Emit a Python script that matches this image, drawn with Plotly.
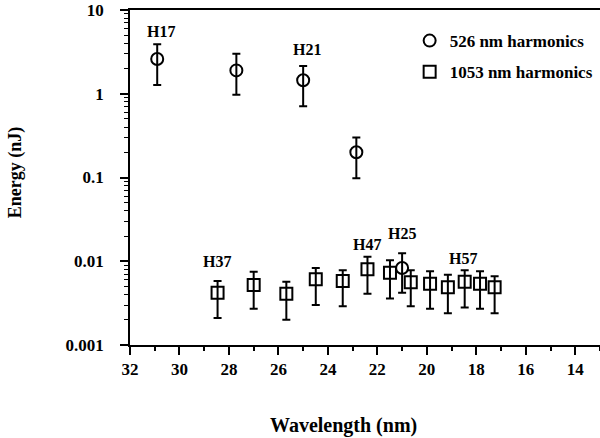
import numpy as np
import plotly.graph_objects as go

# 526 nm harmonics (H17..H25)
wl_526 = [30.9, 27.7, 25.0, 22.85, 21.0]
e_526 = [2.6, 1.9, 1.45, 0.20, 0.0083]
e_526_hi = [3.9, 3.0, 2.15, 0.30, 0.0125]
e_526_lo = [1.27, 0.97, 0.71, 0.098, 0.0042]

# 1053 nm harmonics (H37..H61)
wl_1053 = [28.46, 27.0, 25.68, 24.49, 23.4, 22.4, 21.49, 20.65, 19.87, 19.15, 18.47, 17.85, 17.26]
e_1053 = [0.0042, 0.0052, 0.0041, 0.0061, 0.0058, 0.0080, 0.0073, 0.0056, 0.0054, 0.0049, 0.0057, 0.0054, 0.0049]
e_1053_hi = [0.0058, 0.0075, 0.0057, 0.0083, 0.0078, 0.0113, 0.0103, 0.0078, 0.0076, 0.0069, 0.0078, 0.0076, 0.0066]
e_1053_lo = [0.0021, 0.0027, 0.0020, 0.0030, 0.0029, 0.0041, 0.0036, 0.0029, 0.0027, 0.0024, 0.0028, 0.0027, 0.0024]

# harmonic labels
lab_text = ["H17", "H21", "H37", "H47", "H25", "H57"]
lab_x = [30.74, 24.83, 28.48, 22.4, 20.99, 18.52]
lab_y = [5.6, 3.4, 0.0100, 0.0160, 0.0217, 0.0109]

# tick labels
x_ticks = [32, 30, 28, 26, 24, 22, 20, 18, 16, 14]
x_minor = [31, 29, 27, 25, 23, 21, 19, 17, 15, 13]
y_ticks = [10, 1, 0.1, 0.01, 0.001]
y_ticktext = ["10", "1", "0.1", "0.01", "0.001"]
y_minor = [m * 10.0 ** e for e in range(-3, 1) for m in range(2, 10)]

FONT = "Liberation Serif, Times New Roman, serif"

fig = go.Figure()

def err(v, hi, lo):
    return dict(type="data", symmetric=False,
                array=[h - x for h, x in zip(hi, v)],
                arrayminus=[x - l for l, x in zip(lo, v)],
                color="black", thickness=2, width=4)

fig.add_trace(go.Scatter(
    x=wl_526, y=e_526, mode="markers", name="<b>526 nm harmonics</b>",
    marker=dict(symbol="circle-open", size=12, color="black", line=dict(width=2)),
    error_y=err(e_526, e_526_hi, e_526_lo), legendgroup="a"))

fig.add_trace(go.Scatter(
    x=wl_1053, y=e_1053, mode="markers", name="<b>1053 nm harmonics</b>",
    marker=dict(symbol="square-open", size=12, color="black", line=dict(width=2)),
    error_y=err(e_1053, e_1053_hi, e_1053_lo), legendgroup="b"))

for t, x, y in zip(lab_text, lab_x, lab_y):
    fig.add_annotation(x=x, y=np.log10(y), text=f"<b>{t}</b>", showarrow=False,
                       font=dict(family=FONT, size=16, color="black"))

# axis titles
fig.add_annotation(xref="paper", yref="paper", x=0.455, y=-0.239, xanchor="center", yanchor="middle",
                   text="<b>Wavelength (nm)</b>",
                   showarrow=False, font=dict(family=FONT, size=20, color="black"))
fig.add_annotation(xref="paper", yref="paper", x=-0.243, y=0.515, xanchor="center", yanchor="middle",
                   text="<b>Energy (nJ)</b>",
                   textangle=-90, showarrow=False, font=dict(family=FONT, size=18, color="black"))

tickfont = dict(family=FONT, size=17, color="black")

fig.update_layout(
    width=600, height=438,
    margin=dict(l=130, r=0, t=10, b=93),
    paper_bgcolor="white", plot_bgcolor="white",
    font=dict(family=FONT, size=14, color="black"),
    legend=dict(x=0.595, y=0.961, xanchor="left", yanchor="top",
                font=dict(family=FONT, size=17), tracegroupgap=6,
                bgcolor="rgba(0,0,0,0)"),
    xaxis=dict(range=[32, 13], tickmode="array", tickvals=x_ticks,
               ticktext=[f"<b>{v}</b>" for v in x_ticks], tickfont=tickfont, automargin=False,
               showgrid=False, zeroline=False, showline=True, linecolor="black", linewidth=2,
               mirror=True, ticks="outside", ticklen=8, tickwidth=2, tickcolor="black",
               minor=dict(tickmode="array", tickvals=x_minor, ticks="outside", ticklen=4,
                          tickwidth=1.5, tickcolor="black")),
    yaxis=dict(type="log", range=[-3, 1], tickmode="array", tickvals=y_ticks,
               ticktext=[f"<b>{t}\u00a0\u00a0\u00a0</b>" for t in y_ticktext],
               tickfont=tickfont, automargin=False,
               showgrid=False, zeroline=False, showline=True, linecolor="black", linewidth=2,
               ticks="outside", ticklen=8, tickwidth=2, tickcolor="black",
               minor=dict(tickmode="array", tickvals=y_minor, ticks="outside", ticklen=4,
                          tickwidth=1, tickcolor="black")),
)

fig.write_html("out.html", post_script="document.body.style.margin='0';",
               config={"displayModeBar": False})
